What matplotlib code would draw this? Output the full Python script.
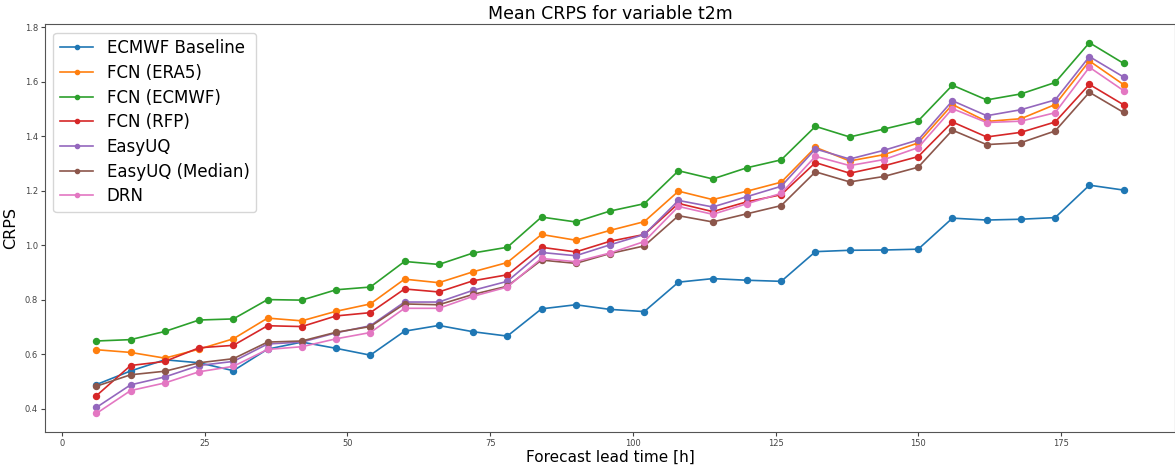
import matplotlib
matplotlib.use('Agg')
import matplotlib.pyplot as plt

# lead times (hours)
lead_time = list(range(6, 187, 6))

ecmwf_baseline = [0.488, 0.538, 0.579, 0.568, 0.539, 0.618, 0.644, 0.621, 0.596, 0.684,
                  0.705, 0.682, 0.666, 0.766, 0.781, 0.764, 0.756, 0.864, 0.877, 0.871,
                  0.867, 0.976, 0.981, 0.982, 0.985, 1.099, 1.092, 1.095, 1.101, 1.220, 1.202]
fcn_era5 = [0.616, 0.606, 0.585, 0.618, 0.656, 0.732, 0.722, 0.757, 0.784, 0.875,
            0.862, 0.902, 0.936, 1.039, 1.018, 1.054, 1.086, 1.198, 1.167, 1.198,
            1.231, 1.359, 1.309, 1.332, 1.375, 1.516, 1.454, 1.464, 1.516, 1.676, 1.589]
fcn_ecmwf = [0.648, 0.653, 0.683, 0.725, 0.729, 0.800, 0.798, 0.836, 0.846, 0.940,
             0.929, 0.971, 0.992, 1.103, 1.085, 1.125, 1.152, 1.273, 1.243, 1.284,
             1.313, 1.436, 1.397, 1.426, 1.456, 1.587, 1.533, 1.555, 1.597, 1.743, 1.667]
fcn_rfp = [0.447, 0.558, 0.573, 0.623, 0.632, 0.704, 0.701, 0.740, 0.752, 0.839,
           0.828, 0.869, 0.891, 0.992, 0.975, 1.014, 1.039, 1.153, 1.123, 1.159,
           1.185, 1.303, 1.264, 1.291, 1.325, 1.452, 1.397, 1.414, 1.452, 1.590, 1.515]
easyuq = [0.404, 0.487, 0.516, 0.558, 0.573, 0.637, 0.644, 0.678, 0.704, 0.791,
          0.791, 0.834, 0.867, 0.973, 0.961, 1.001, 1.039, 1.164, 1.140, 1.178,
          1.216, 1.353, 1.316, 1.348, 1.386, 1.530, 1.475, 1.497, 1.533, 1.692, 1.617]
easyuq_median = [0.482, 0.524, 0.537, 0.568, 0.583, 0.644, 0.648, 0.680, 0.701, 0.784,
                 0.781, 0.819, 0.849, 0.945, 0.933, 0.969, 0.997, 1.108, 1.085, 1.115,
                 1.145, 1.269, 1.232, 1.252, 1.286, 1.422, 1.369, 1.376, 1.419, 1.561, 1.487]
drn = [0.382, 0.466, 0.494, 0.535, 0.555, 0.617, 0.627, 0.656, 0.679, 0.768,
       0.768, 0.812, 0.846, 0.951, 0.939, 0.971, 1.013, 1.142, 1.113, 1.152,
       1.190, 1.326, 1.292, 1.314, 1.358, 1.501, 1.450, 1.455, 1.486, 1.653, 1.567]

series = [
    ('ECMWF Baseline', ecmwf_baseline),
    ('FCN (ERA5)', fcn_era5),
    ('FCN (ECMWF)', fcn_ecmwf),
    ('FCN (RFP)', fcn_rfp),
    ('EasyUQ', easyuq),
    ('EasyUQ (Median)', easyuq_median),
    ('DRN', drn),
]

fig = plt.figure(figsize=(11.75, 4.65), dpi=100)
ax = fig.add_axes([0.0383, 0.071, 0.9617, 0.877])

for name, vals in series:
    ax.plot(lead_time, vals, marker='o', markersize=4.3, linewidth=1.2, label=name)

ax.set_title('Mean CRPS for variable t2m', fontsize=12.5, pad=4)
ax.set_xlabel('Forecast lead time [h]', fontsize=11, labelpad=1)
ax.set_ylabel('CRPS', fontsize=11.5, labelpad=5)
ax.tick_params(labelsize=6, colors='#444444', length=3, pad=2)
for sp in ax.spines.values():
    sp.set_color('#555555')
ax.legend(fontsize=12, loc='upper left', handlelength=2.0, labelspacing=0.4,
          borderaxespad=0.5, markerscale=0.7)

fig.savefig('out.png', dpi=100)
